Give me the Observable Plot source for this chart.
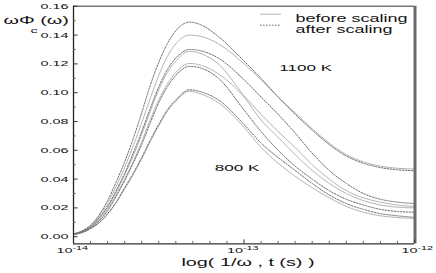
<!DOCTYPE html>
<html><head><meta charset="utf-8">
<script src="https://cdn.jsdelivr.net/npm/d3@7"></script>
<script src="https://cdn.jsdelivr.net/npm/@observablehq/plot@0.6"></script>
<style>body{margin:0;background:#fff} svg{display:block}</style>
</head><body><div id="chart"></div>
<script>
// log10 of 1/ω (or t, in s)
const logT = [-14, -13.95, -13.9, -13.85, -13.8, -13.75, -13.7, -13.65, -13.6, -13.55, -13.5, -13.45, -13.4, -13.32,
  -13.25, -13.15, -13.0, -12.9, -12.8, -12.7, -12.6, -12.5, -12.4, -12.3, -12.2, -12.1, -12.0];

// after scaling (dashed)
const after1100 = [0.002,0.004,0.008,0.015,0.025,0.038,0.052,0.068,0.086,0.105,0.121,0.134,0.143,0.149,
  0.147,0.139,0.122,0.110,0.097,0.085,0.074,0.064,0.056,0.051,0.048,0.0465,0.0458];
const after1000 = [0.0018,0.0036,0.007,0.013,0.021,0.032,0.044,0.058,0.073,0.089,0.104,0.116,0.124,0.130,
  0.129,0.124,0.109,0.097,0.085,0.072,0.058,0.046,0.037,0.030,0.026,0.024,0.023];
const after900 = [0.0016,0.0032,0.0062,0.011,0.018,0.028,0.039,0.051,0.064,0.079,0.093,0.104,0.112,0.1183,
  0.117,0.110,0.088,0.073,0.060,0.049,0.040,0.032,0.026,0.022,0.019,0.0175,0.017];
const after800 = [0.0014,0.0029,0.0057,0.0098,0.016,0.024,0.034,0.044,0.055,0.067,0.078,0.088,0.095,0.102,
  0.1005,0.095,0.078,0.065,0.055,0.046,0.037,0.029,0.023,0.019,0.016,0.0145,0.0135];

// before scaling (solid)
const before1100 = [0.0019,0.0038,0.0075,0.014,0.023,0.035,0.048,0.063,0.079,0.096,0.112,0.125,0.134,0.140,
  0.139,0.134,0.120,0.109,0.097,0.086,0.075,0.065,0.057,0.052,0.049,0.0475,0.047];
const before1000 = [0.0017,0.0035,0.0068,0.0125,0.0205,0.031,0.043,0.056,0.071,0.087,0.102,0.114,0.122,0.1287,
  0.127,0.120,0.098,0.085,0.073,0.062,0.050,0.040,0.032,0.027,0.024,0.022,0.021];
const before900 = [0.0016,0.0033,0.0064,0.0115,0.019,0.029,0.040,0.052,0.066,0.081,0.095,0.106,0.114,0.1203,
  0.119,0.113,0.097,0.081,0.069,0.057,0.046,0.037,0.030,0.025,0.022,0.0205,0.020];
const before800 = [0.0014,0.0028,0.0055,0.0095,0.0155,0.0235,0.033,0.043,0.054,0.066,0.077,0.087,0.094,0.101,
  0.099,0.093,0.076,0.062,0.051,0.042,0.034,0.027,0.021,0.017,0.0145,0.0133,0.0127];

const yTicks = [0, 0.02, 0.04, 0.06, 0.08, 0.10, 0.12, 0.14, 0.16];
const yMinor = [0.01, 0.03, 0.05, 0.07, 0.09, 0.11, 0.13, 0.15];
const xTicks = [1e-14, 1e-13, 1e-12];
const xTickExp = ["-14", "-13", "-12"];
const legendLabels = ["before scaling", "after scaling"];
const tempLabels = [{label: "1100 K", t: 2.3e-13, v: 0.1175}, {label: "800 K", t: 9.1e-14, v: 0.048}];

const seriesList = [
  {name: "before 1100", kind: "before", values: before1100},
  {name: "before 1000", kind: "before", values: before1000},
  {name: "before 900", kind: "before", values: before900},
  {name: "before 800", kind: "before", values: before800},
  {name: "after 1100", kind: "after", values: after1100},
  {name: "after 1000", kind: "after", values: after1000},
  {name: "after 900", kind: "after", values: after900},
  {name: "after 800", kind: "after", values: after800}
];
const rows = seriesList.flatMap(s => s.values.map((v, i) => ({series: s.name, kind: s.kind, t: Math.pow(10, logT[i]), v})));
const xMinor = d3.range(-140, -119).map(k => Math.pow(10, k / 10)).filter(v => !xTicks.some(t => Math.abs(t - v) / t < 1e-6));

const W = 436, H = 273, mL = 73, mR = 22, mT = 5.8, mB = 29.6;
const innerW = W - mL - mR, innerH = H - mT - mB;
const yMin = -0.005;
const FONT = "Liberation Sans, Arial, Helvetica, sans-serif";
const SOLID = "#b4b4b4", DASH = "#6e6e6e", DASHARRAY = "1.6,1.4";

const chart = Plot.plot({
  width: W, height: H,
  marginLeft: mL, marginRight: mR, marginTop: mT, marginBottom: mB,
  x: {type: "log", domain: [1e-14, 1e-12], axis: null},
  y: {domain: [yMin, 0.16], axis: null},
  style: {fontFamily: FONT, background: "#fff", color: "#111", overflow: "hidden"},
  marks: [
    Plot.line(rows.filter(d => d.kind === "before"), {x: "t", y: "v", z: "series", stroke: SOLID, strokeWidth: 1, curve: "monotone-x"}),
    Plot.line(rows.filter(d => d.kind === "after"), {x: "t", y: "v", z: "series", stroke: DASH, strokeWidth: 1, strokeDasharray: DASHARRAY, curve: "monotone-x"}),
    // frame
    Plot.ruleY([0.16], {stroke: "#777", strokeWidth: 1.6}),
    Plot.ruleX([1e-12], {stroke: "#6a6a6a", strokeWidth: 3, dx: 0.5}),
    Plot.ruleX([1e-14], {stroke: "#222", strokeWidth: 1.3}),
    Plot.ruleY([yMin], {stroke: "#333", strokeWidth: 1.2}),
    // ticks
    Plot.tickY(yTicks, {y: d => d, insetRight: innerW - 4.5, stroke: "#333"}),
    Plot.tickY(yMinor, {y: d => d, insetRight: innerW - 2.5, stroke: "#555"}),
    Plot.tickX(xTicks, {x: d => d, insetTop: innerH - 4, stroke: "#333"}),
    Plot.tickX(xMinor, {x: d => d, insetTop: innerH - 2.5, stroke: "#666"}),
    // y tick labels
    Plot.text(yTicks, {y: d => d, frameAnchor: "left", dx: -5, textAnchor: "end", text: d => d3.format(".2f")(d), fontSize: 8, fill: "#111"}),
    // x tick labels (base + superscript)
    Plot.text(xTicks.slice(0, 2), {x: d => d, frameAnchor: "bottom", dy: 8.8, textAnchor: "end", text: () => "10", fontSize: 8, fill: "#111", dx: -1}),
    Plot.text(xTicks.slice(0, 2), {x: d => d, frameAnchor: "bottom", dy: 5.6, textAnchor: "start", text: (d, i) => xTickExp[i], fontSize: 6, fill: "#111", dx: -1}),
    Plot.text(xTicks.slice(2), {x: d => d, frameAnchor: "bottom", dy: 8.8, textAnchor: "end", text: () => "10", fontSize: 8, fill: "#111", dx: 3}),
    Plot.text(xTicks.slice(2), {x: d => d, frameAnchor: "bottom", dy: 5.6, textAnchor: "start", text: () => xTickExp[2], fontSize: 6, fill: "#111", dx: 3}),
    // axis titles
    Plot.text(["log( 1/ω , t (s) )"], {frameAnchor: "bottom", dy: 21.6, dx: 4, text: d => d, fontSize: 11, fill: "#111"}),
    Plot.text(["ωΦ (ω)"], {frameAnchor: "top-left", dx: -70, dy: 9.5, textAnchor: "start", text: d => d, fontSize: 11, fill: "#111"}),
    Plot.text(["c"], {frameAnchor: "top-left", dx: -43, dy: 21, textAnchor: "start", text: d => d, fontSize: 8, fill: "#111"}),
    // legend text
    Plot.text([legendLabels[0]], {frameAnchor: "top-left", dx: 222, dy: 8.4, textAnchor: "start", text: d => d, fontSize: 10, fill: "#111"}),
    Plot.text([legendLabels[1]], {frameAnchor: "top-left", dx: 222, dy: 19.4, textAnchor: "start", text: d => d, fontSize: 10, fill: "#111"}),
    // temperature annotations
    Plot.text(tempLabels, {x: "t", y: "v", text: "label", fontSize: 9.5, fill: "#111"})
  ]
});

document.getElementById("chart").appendChild(chart);
const svg = d3.select(chart);

// legend samples
const lg = svg.append("g");
[0, 1].forEach(i => {
  lg.append("line")
    .attr("x1", mL + 187).attr("x2", mL + 208)
    .attr("y1", mT + 8.4 + i * 11).attr("y2", mT + 8.4 + i * 11)
    .attr("stroke", i === 0 ? SOLID : DASH)
    .attr("stroke-width", 1)
    .attr("stroke-dasharray", i === 0 ? null : DASHARRAY);
});

// horizontally stretched lettering as in the reference
const S = 1.8;
chart.querySelectorAll("text").forEach(t => {
  const x = t.getAttribute("x");
  let tr = t.getAttribute("transform") || "";
  if (x !== null) { tr += ` translate(${x},0)`; t.removeAttribute("x"); }
  t.setAttribute("transform", `${tr} scale(${S},1)`);
});
</script>
</body></html>
